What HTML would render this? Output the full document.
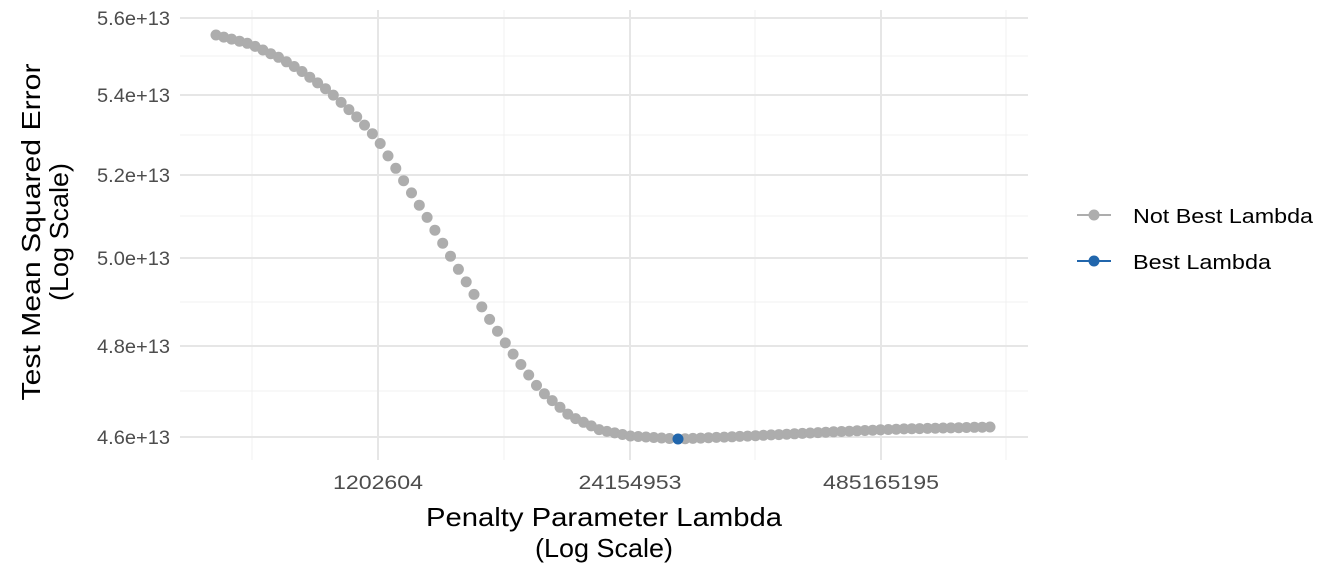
<!DOCTYPE html>
<html><head><meta charset="utf-8"><style>
html,body{margin:0;padding:0;background:#fff;}
svg{display:block;font-family:"Liberation Sans",Arial,sans-serif;}
</style></head><body>
<svg id="s" width="1344" height="576" viewBox="0 0 1344 576">
<g stroke="#f0f0f0" stroke-width="1">
<line x1="180" x2="1028" y1="56" y2="56"/><line x1="180" x2="1028" y1="135" y2="135"/>
<line x1="180" x2="1028" y1="216" y2="216"/><line x1="180" x2="1028" y1="302" y2="302"/>
<line x1="180" x2="1028" y1="391" y2="391"/>
<line x1="252" x2="252" y1="10" y2="460"/><line x1="504" x2="504" y1="10" y2="460"/>
<line x1="755" x2="755" y1="10" y2="460"/><line x1="1006" x2="1006" y1="10" y2="460"/>
</g>
<g stroke="#e6e6e6" stroke-width="2">
<line x1="180" x2="1028" y1="18" y2="18"/><line x1="180" x2="1028" y1="95" y2="95"/>
<line x1="180" x2="1028" y1="175" y2="175"/><line x1="180" x2="1028" y1="258" y2="258"/>
<line x1="180" x2="1028" y1="346" y2="346"/><line x1="180" x2="1028" y1="437" y2="437"/>
<line x1="378" x2="378" y1="10" y2="460"/><line x1="630" x2="630" y1="10" y2="460"/>
<line x1="881" x2="881" y1="10" y2="460"/>
</g>
<g id="pts" fill="#adadad"></g>
<g font-size="19" fill="#4d4d4d" text-anchor="end">
<text x="170" y="25" textLength="73" lengthAdjust="spacingAndGlyphs">5.6e+13</text><text x="170" y="102" textLength="73" lengthAdjust="spacingAndGlyphs">5.4e+13</text>
<text x="170" y="182" textLength="73" lengthAdjust="spacingAndGlyphs">5.2e+13</text><text x="170" y="265" textLength="73" lengthAdjust="spacingAndGlyphs">5.0e+13</text>
<text x="170" y="353" textLength="73" lengthAdjust="spacingAndGlyphs">4.8e+13</text><text x="170" y="444" textLength="73" lengthAdjust="spacingAndGlyphs">4.6e+13</text>
</g>
<g font-size="19" fill="#4d4d4d" text-anchor="middle">
<text x="378" y="489" textLength="90" lengthAdjust="spacingAndGlyphs">1202604</text><text x="630" y="489" textLength="103" lengthAdjust="spacingAndGlyphs">24154953</text><text x="881" y="489" textLength="116" lengthAdjust="spacingAndGlyphs">485165195</text>
</g>
<g font-size="26" fill="#000" text-anchor="middle">
<text x="604" y="526" textLength="356" lengthAdjust="spacingAndGlyphs">Penalty Parameter Lambda</text><text x="604" y="557" textLength="138" lengthAdjust="spacingAndGlyphs">(Log Scale)</text>
<text transform="translate(40,232) rotate(-90)" textLength="337" lengthAdjust="spacingAndGlyphs">Test Mean Squared Error</text>
<text transform="translate(68,232) rotate(-90)" textLength="138" lengthAdjust="spacingAndGlyphs">(Log Scale)</text>
</g>
<line x1="1077" x2="1111" y1="215" y2="215" stroke="#adadad" stroke-width="2"/>
<circle cx="1094" cy="215" r="5.5" fill="#adadad"/>
<line x1="1077" x2="1111" y1="261" y2="261" stroke="#2166ac" stroke-width="2"/>
<circle cx="1094" cy="261" r="5.5" fill="#2166ac"/>
<g font-size="20" fill="#000"><text x="1133" y="223" textLength="180" lengthAdjust="spacingAndGlyphs">Not Best Lambda</text><text x="1133" y="269" textLength="138" lengthAdjust="spacingAndGlyphs">Best Lambda</text></g>
</svg>
<script>
var c=[[216,35],[250,44],[280,58],[300,70],[330,92],[360,120],[378,140],[400,175],[430,222],[460,272],[490,320],[510,350],[540,390],[570,416],[600,430],[630,436],[678,439],[750,436],[830,432],[900,429],[990,427]];
function yAt(x){for(var i=0;i<c.length-1;i++){if(x<=c[i+1][0]){var t=(x-c[i][0])/(c[i+1][0]-c[i][0]);return c[i][1]+t*(c[i+1][1]-c[i][1]);}}return c[c.length-1][1];}
var g=document.getElementById('pts'),h='';
for(var i=0;i<100;i++){var x=216+i*(990-216)/99;if(Math.abs(x-678)<3)continue;h+='<circle cx="'+x.toFixed(1)+'" cy="'+yAt(x).toFixed(1)+'" r="5.5"/>';}
h+='<circle cx="678" cy="439" r="5.5" fill="#2166ac"/>';
g.innerHTML=h;
</script>
</body></html>
